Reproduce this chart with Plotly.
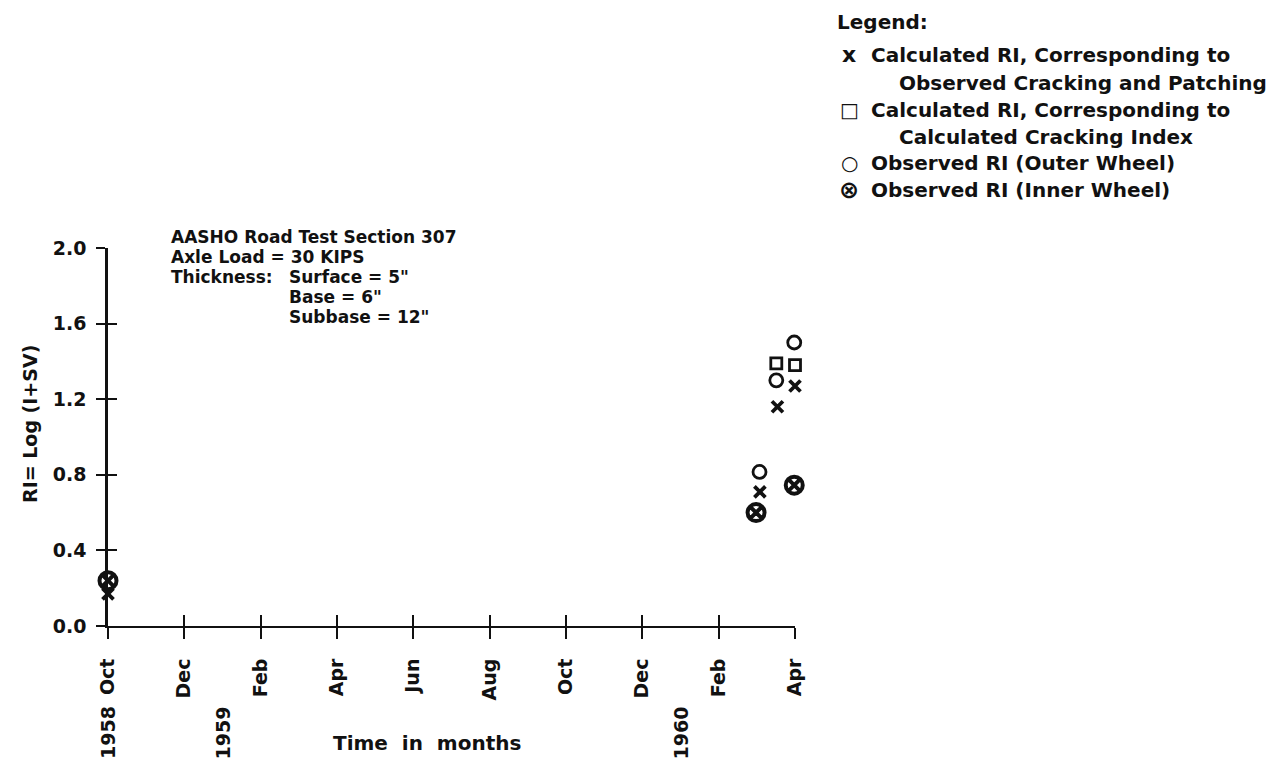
import plotly.graph_objects as go

# ---- data: months counted from October 1958 ----
tick_months = [0, 2, 4, 6, 8, 10, 12, 14, 16, 18]
tick_labels = ["Oct", "Dec", "Feb", "Apr", "Jun", "Aug", "Oct", "Dec", "Feb", "Apr"]
year_months = [0, 3, 15]
year_labels = ["1958", "1959", "1960"]

ri_ticks = [0.0, 0.4, 0.8, 1.2, 1.6, 2.0]

# Calculated RI, corresponding to observed cracking and patching
calc_cp_month = [0.0, 17.08, 17.54, 18.0]
calc_cp_ri = [0.17, 0.71, 1.16, 1.27]

# Calculated RI, corresponding to calculated cracking index
calc_ci_month = [17.51, 18.0]
calc_ci_ri = [1.39, 1.38]

# Observed RI, outer wheel
obs_outer_month = [17.07, 17.51, 17.98]
obs_outer_ri = [0.815, 1.30, 1.50]

# Observed RI, inner wheel
obs_inner_month = [0.0, 16.98, 17.98]
obs_inner_ri = [0.24, 0.60, 0.745]

FONT = "DejaVu Sans"
INK = "#111111"

W, H = 1275, 768
L, R, T, B = 108, 795, 248, 626


def px(x):
    return (x - L) / (R - L)


def py(y):
    return (B - y) / (B - T)


fig = go.Figure()

fig.add_trace(go.Scatter(
    x=calc_cp_month, y=calc_cp_ri, mode="markers", cliponaxis=False,
    marker=dict(symbol="x-thin", size=11, line=dict(width=3.8, color=INK), color=INK),
    showlegend=False))
fig.add_trace(go.Scatter(
    x=calc_ci_month, y=calc_ci_ri, mode="markers", cliponaxis=False,
    marker=dict(symbol="square-open", size=11, line=dict(width=2.8, color=INK), color=INK),
    showlegend=False))
fig.add_trace(go.Scatter(
    x=obs_outer_month, y=obs_outer_ri, mode="markers", cliponaxis=False,
    marker=dict(symbol="circle-open", size=13, line=dict(width=2.8, color=INK), color=INK),
    showlegend=False))
fig.add_trace(go.Scatter(
    x=obs_inner_month, y=obs_inner_ri, mode="markers", cliponaxis=False,
    marker=dict(symbol="circle-x-open", size=17, line=dict(width=4, color=INK), color=INK),
    showlegend=False))
# empty trace so the overlay axes (inward tick halves) get drawn
fig.add_trace(go.Scatter(x=[], y=[], xaxis="x2", yaxis="y2", showlegend=False))

ann = []


def text(x, y, s, size=20, xanchor="left", angle=0, xref="paper"):
    ann.append(dict(x=x, y=y, xref=xref, yref="paper", text=s, showarrow=False,
                    xanchor=xanchor, yanchor="middle", textangle=angle, borderpad=0,
                    font=dict(family=FONT, size=size, color=INK, weight="bold")))


# section description
text(px(170), py(237), "AASHO Road Test Section 307", size=17)
text(px(170), py(257), "Axle Load = 30 KIPS", size=17)
text(px(170), py(277), "Thickness:", size=17)
text(px(288), py(277), "Surface = 5\"", size=17)
text(px(288), py(297), "Base = 6\"", size=17)
text(px(288), py(317), "Subbase = 12\"", size=17)

# legend block
text(px(836), py(22), "Legend:")
text(px(849), py(54), "x", size=22, xanchor="center")
text(px(870), py(55), "Calculated RI, Corresponding to")
text(px(898), py(83), "Observed Cracking and Patching")
text(px(849), py(110), "\u25a1", size=20, xanchor="center")
text(px(870), py(110), "Calculated RI, Corresponding to")
text(px(898), py(137), "Calculated Cracking Index")
text(px(849), py(163), "\u25cb", size=20, xanchor="center")
text(px(870), py(163), "Observed RI (Outer Wheel)")
text(px(849), py(190), "\u2297", size=24, xanchor="center")
text(px(870), py(190), "Observed RI (Inner Wheel)")

# year labels under the month ticks
for m, lab in zip(year_months, year_labels):
    text(m, py(733), lab, size=19, xanchor="center", angle=-90, xref="x")

# axis titles
text(px(427), py(743), "Time  in  months", xanchor="center")
text(px(30), py(424), "RI= Log (I+SV)", size=19, xanchor="center", angle=-90)

axis_font = dict(family=FONT, size=19, color=INK, weight="bold")

fig.update_layout(
    width=W, height=H,
    margin=dict(l=L, r=W - R, t=T, b=H - B, pad=0),
    paper_bgcolor="white", plot_bgcolor="white",
    showlegend=False,
    annotations=ann,
    xaxis=dict(range=[0, 18], tickvals=tick_months, ticktext=tick_labels,
               tickangle=-90, ticks="outside", ticklen=11, tickwidth=2, tickcolor=INK,
               showline=True, linewidth=2, linecolor=INK, showgrid=False, zeroline=False,
               tickfont=axis_font, ticklabelstandoff=12, fixedrange=True),
    xaxis2=dict(range=[0, 18], overlaying="x", anchor="y", side="bottom",
                tickvals=tick_months, ticks="inside", ticklen=11, tickwidth=2, tickcolor=INK,
                showticklabels=False, showline=False, showgrid=False, zeroline=False),
    yaxis=dict(range=[0, 2.0], tickvals=ri_ticks, tickformat=".1f",
               ticks="outside", ticklen=9, tickwidth=2, tickcolor=INK,
               showline=True, linewidth=2.6, linecolor=INK, showgrid=False, zeroline=False,
               tickfont=axis_font, ticklabelstandoff=6, fixedrange=True),
    yaxis2=dict(range=[0, 2.0], overlaying="y", anchor="x", side="left",
                tickvals=ri_ticks, ticks="inside", ticklen=9, tickwidth=2, tickcolor=INK,
                showticklabels=False, showline=False, showgrid=False, zeroline=False),
)

fig.write_html("out.html")
